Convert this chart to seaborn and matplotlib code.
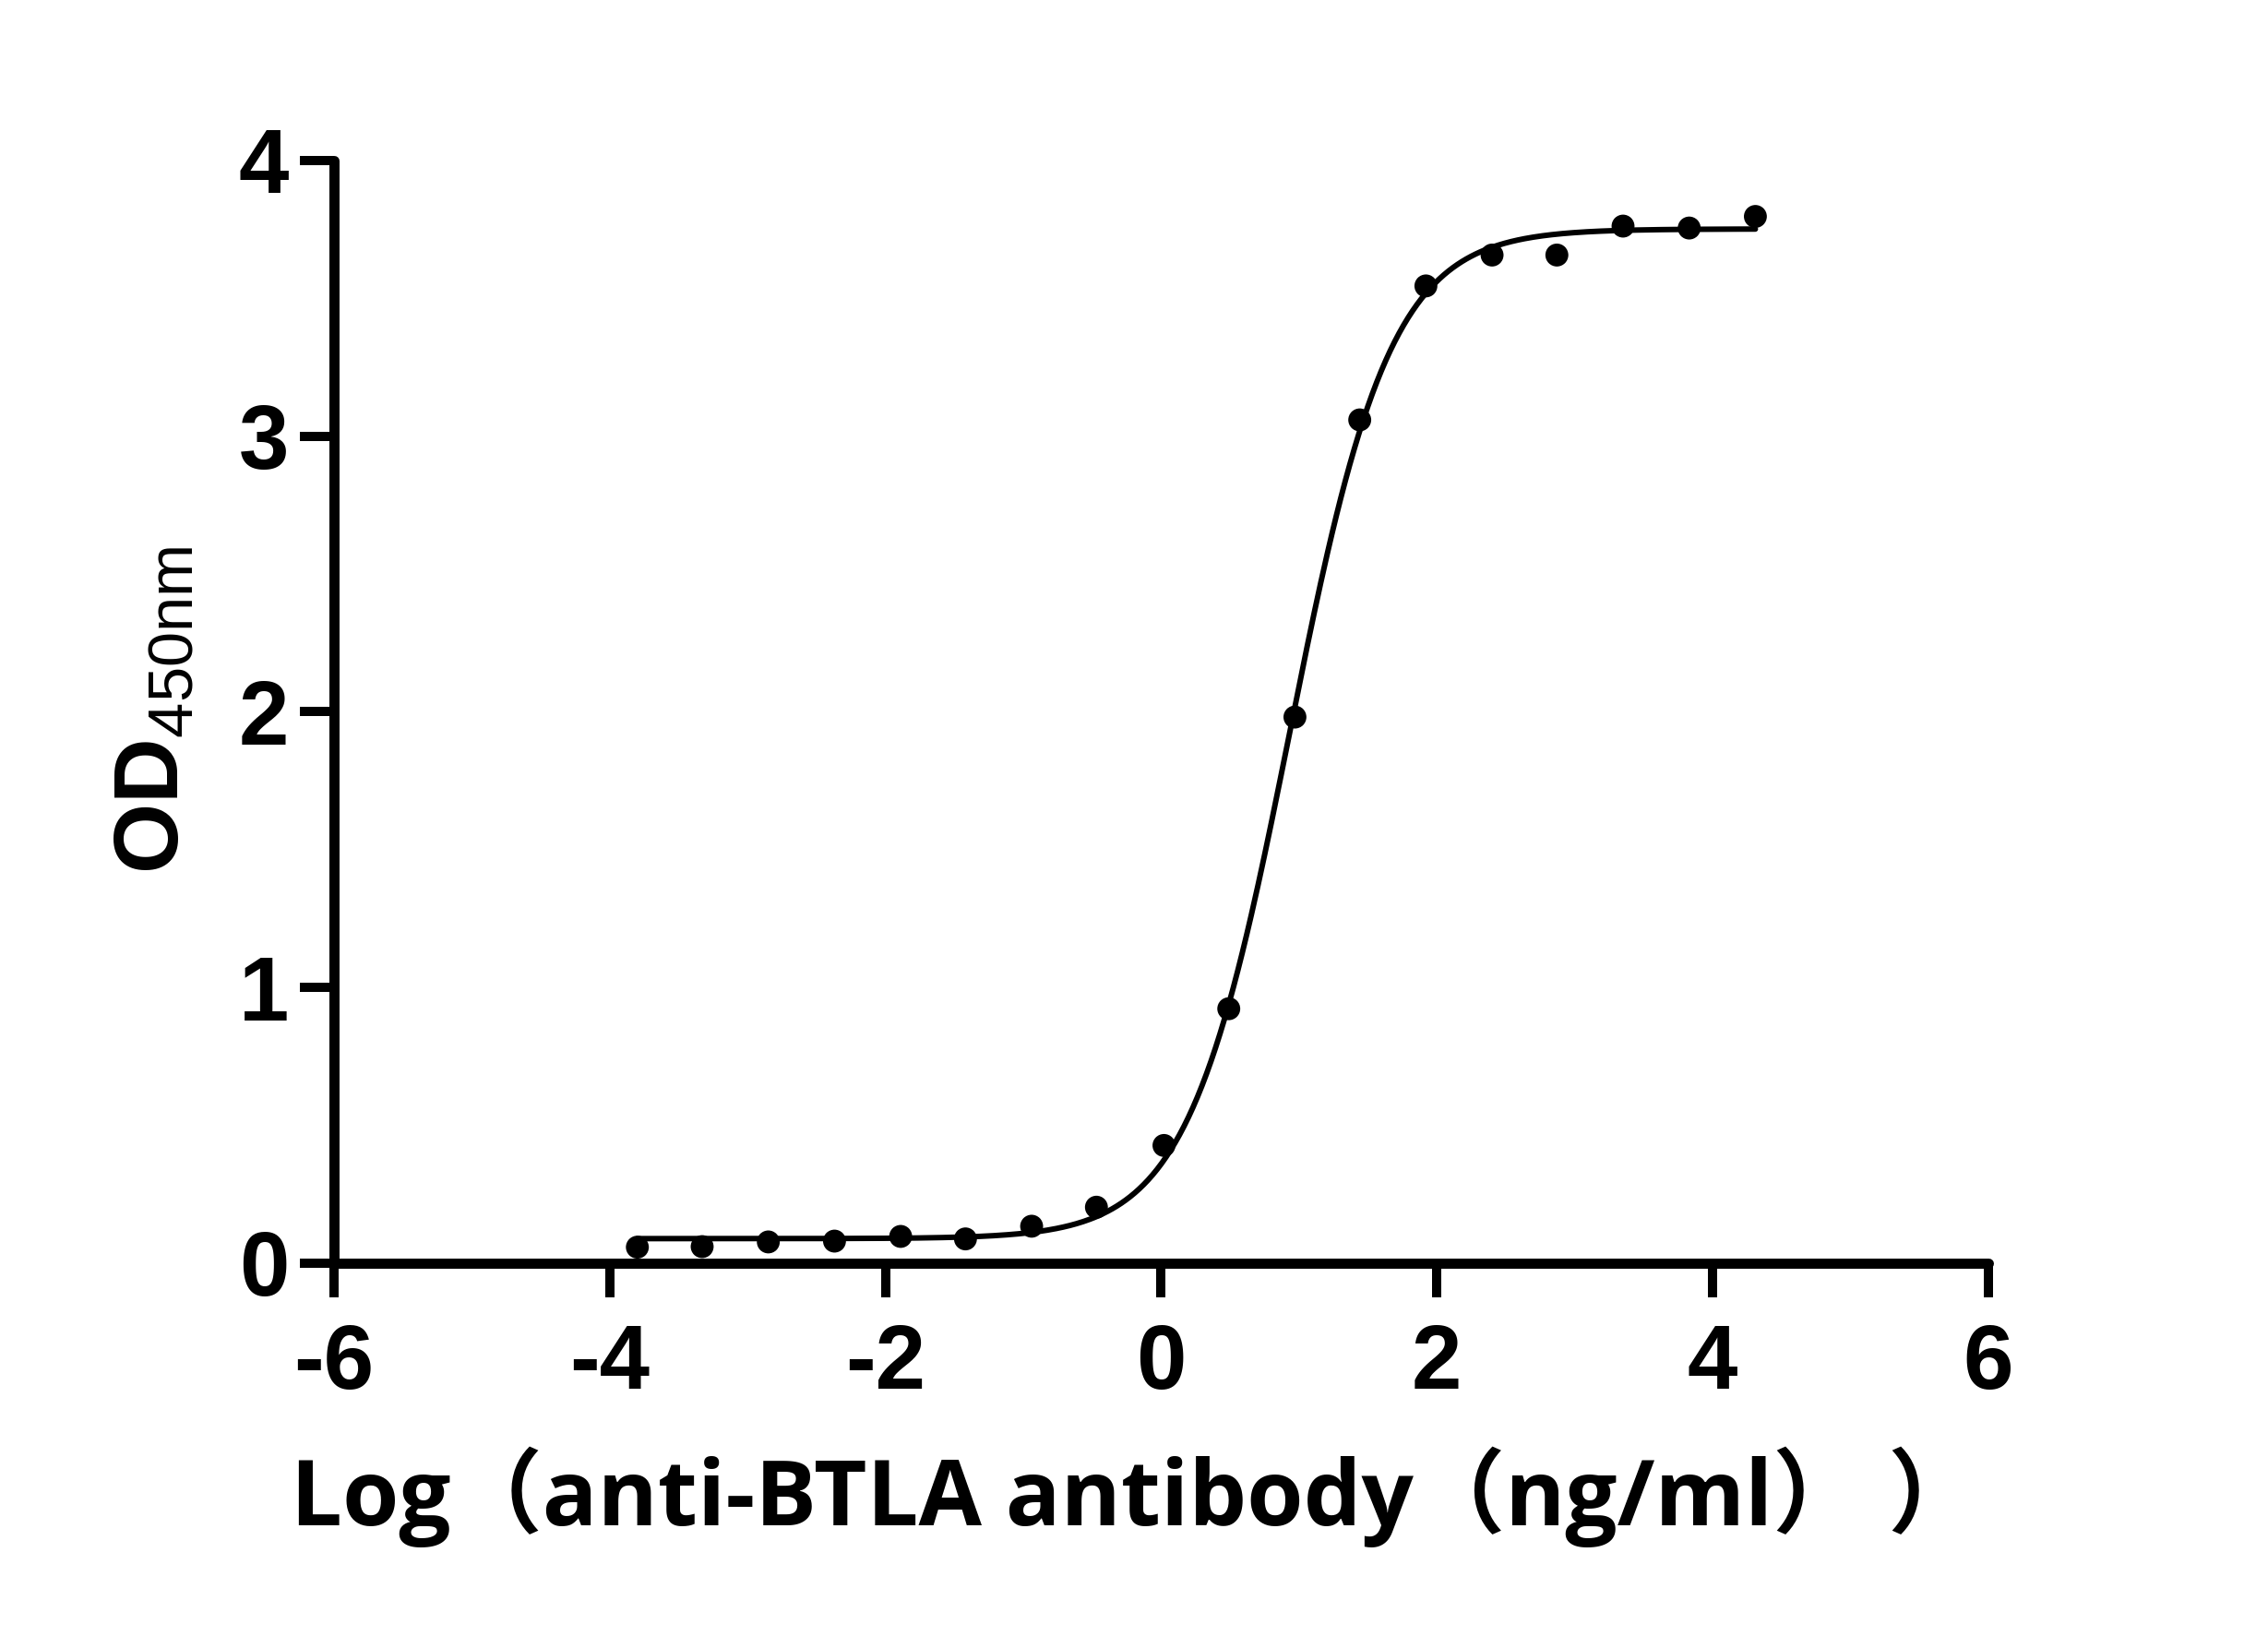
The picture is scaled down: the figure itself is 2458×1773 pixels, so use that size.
import numpy as np
import pandas as pd
import matplotlib
matplotlib.use("Agg")
import matplotlib.pyplot as plt
import seaborn as sns

# ---------------- data ----------------
log_conc = [-3.80, -3.33, -2.85, -2.37, -1.89, -1.42, -0.94, -0.47, 0.02,
            0.49, 0.97, 1.44, 1.92, 2.40, 2.87, 3.35, 3.83, 4.31]
od450 = [0.058, 0.060, 0.077, 0.080, 0.097, 0.088, 0.134, 0.203, 0.427,
         0.923, 1.981, 3.059, 3.545, 3.657, 3.657, 3.762, 3.755, 3.797]
x_ticks = [-6, -4, -2, 0, 2, 4, 6]
y_ticks = [0, 1, 2, 3, 4]
x_label = "Log（anti-BTLA antibody（ng/ml） ）"
y_label = r"$\mathbf{OD}_{\mathrm{450nm}}$"

df = pd.DataFrame({"logc": log_conc, "od": od450})

# ---------------- 4-parameter logistic fit of the points ----------------
x = df["logc"].to_numpy()
y = df["od"].to_numpy()
cs = np.linspace(0.0, 2.0, 401)[:, None, None]
hs = np.linspace(0.5, 3.0, 251)[None, :, None]
s = 1.0 / (1.0 + 10 ** ((cs - x[None, None, :]) * hs))
u = 1.0 - s
a11 = (u * u).sum(-1); a12 = (u * s).sum(-1); a22 = (s * s).sum(-1)
b1 = (u * y).sum(-1); b2 = (s * y).sum(-1)
det = a11 * a22 - a12 ** 2
bot = (a22 * b1 - a12 * b2) / det
top = (a11 * b2 - a12 * b1) / det
pred = bot[..., None] * u + top[..., None] * s
sse = ((pred - y) ** 2).sum(-1)
i, j = np.unravel_index(np.argmin(sse), sse.shape)
c_fit, h_fit, b_fit, t_fit = cs[i, 0, 0], hs[0, j, 0], bot[i, j], top[i, j]
xs = np.linspace(x.min(), x.max(), 500)
fit_df = pd.DataFrame({"logc": xs,
                       "od": b_fit + (t_fit - b_fit) / (1 + 10 ** ((c_fit - xs) * h_fit))})

# ---------------- figure ----------------
sns.set_style("ticks")
plt.rcParams["font.family"] = ["Liberation Sans", "DejaVu Sans"]
plt.rcParams["mathtext.fontset"] = "custom"
plt.rcParams["mathtext.rm"] = "Liberation Sans"
plt.rcParams["mathtext.bf"] = "Liberation Sans:bold"
plt.rcParams["text.color"] = "black"
plt.rcParams["axes.labelcolor"] = "black"
plt.rcParams["xtick.color"] = "black"
plt.rcParams["ytick.color"] = "black"

DPI = 100
fig = plt.figure(figsize=(24.58, 17.73), dpi=DPI)
ax = fig.add_axes([0.1473, 0.2279, 0.7294, 0.6740])

sns.lineplot(data=fit_df, x="logc", y="od", ax=ax, color="black", lw=4.3,
             zorder=2)
sns.scatterplot(data=df, x="logc", y="od", ax=ax, color="black", s=320,
                edgecolor="none", zorder=3, clip_on=False)

ax.set_xlim(-6, 6)
ax.set_ylim(0, 4)
ax.set_xticks(x_ticks)
ax.set_yticks(y_ticks)
ax.set_xticklabels([str(v) for v in x_ticks])
ax.set_yticklabels([str(v) for v in y_ticks])

for side in ["top", "right"]:
    ax.spines[side].set_visible(False)
for side in ["left", "bottom"]:
    ax.spines[side].set_linewidth(7.9)
    ax.spines[side].set_color("black")
    ax.spines[side].set_capstyle("round")

ax.tick_params(axis="both", direction="out", length=26.5, width=7.2,
               color="black", labelcolor="black")
ax.tick_params(axis="y", pad=8.6)
ax.tick_params(axis="x", pad=20)
for lab in ax.get_xticklabels() + ax.get_yticklabels():
    lab.set_fontfamily("Liberation Sans")
    lab.set_fontweight("bold")
    lab.set_fontsize(70.5)
    lab.set_color("black")

ax.set_xlabel("")
ax.set_ylabel(y_label, fontsize=98 * 0.72, color="black")
ax.yaxis.set_label_coords(-0.083, 0.502)

ax.text(-0.026, -0.2377, x_label, transform=ax.transAxes, ha="left",
        va="baseline", fontsize=71.5, fontweight="bold",
        fontfamily=["Open Sans", "Noto Sans CJK SC"], color="black")

fig.savefig("out.png", dpi=DPI, facecolor="white")
